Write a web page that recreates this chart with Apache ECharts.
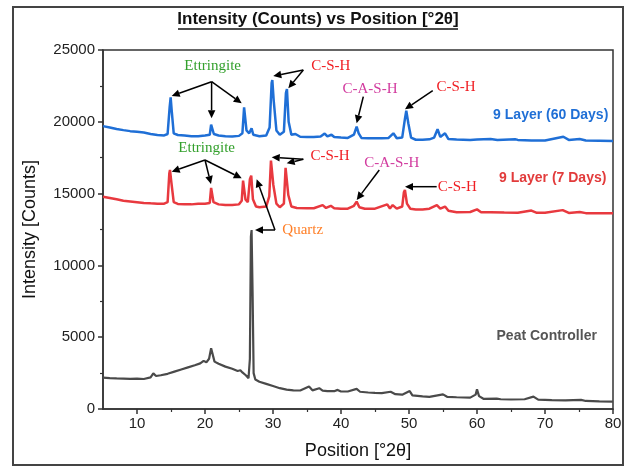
<!DOCTYPE html>
<html><head><meta charset="utf-8">
<script src="https://cdn.jsdelivr.net/npm/echarts@6/dist/echarts.min.js"></script>
<style>html,body{margin:0;padding:0;background:#fff}#c{width:627px;height:467px}</style>
</head><body><div id="c"></div>
<script>
const titleText = 'Intensity (Counts) vs Position [°2θ]';
const xName = 'Position [°2θ]';
const yName = 'Intensity [Counts]';
const xTicks = [10, 20, 30, 40, 50, 60, 70, 80];
const xMinorTicks = [15, 25, 35, 45, 55, 65, 75];
const seriesNames = ['9 Layer (60 Days)', '9 Layer (7 Days)', 'Peat Controller'];
const seriesColors = ['#1f6fd6', '#e8393f', '#4a4a4a'];

const layer60 = [[5,19700],[6,19600],[7,19500],[8,19420],[9,19350],[10,19300],[11,19250],[12,19150],[13,19080],[14,19050],[14.5,19150],[14.8,21000],[14.95,21700],[15.1,20800],[15.4,19200],[16,19080],[17,19050],[18,19000],[19,19000],[20,19050],[20.7,19100],[20.9,19800],[21.05,19850],[21.3,19150],[22,19050],[23,19000],[24,18980],[25,19020],[25.5,19200],[25.75,21000],[25.85,21050],[26.1,19400],[26.5,19200],[26.85,19550],[27.1,19100],[28,19000],[29,19050],[29.5,19600],[29.8,22700],[29.9,22910],[30.1,21500],[30.5,19400],[31,19100],[31.6,19300],[31.9,22000],[32.05,22285],[32.3,20000],[32.7,19100],[33.3,19150],[34,18960],[35,18950],[36,18950],[37,18970],[37.6,19180],[38,18980],[38.6,19100],[39,18940],[40,18900],[41,18880],[41.9,19100],[42.3,19660],[42.6,19200],[43,18880],[44,18850],[45,18850],[46,18860],[47,18880],[47.7,19200],[48.2,18850],[49,18900],[49.4,20200],[49.6,20770],[49.9,19900],[50.3,18900],[51,18750],[52,18750],[53,18780],[53.7,18900],[54.2,19480],[54.6,18950],[55.3,19200],[55.8,18800],[57,18760],[59,18740],[60,18760],[62,18800],[63,18740],[65.6,18780],[66,18740],[68,18700],[70,18700],[72.7,18960],[73.5,18740],[75.1,18800],[76,18700],[78,18680],[80,18660]];

const layer7 = [[5,14785],[6,14700],[7,14600],[8,14500],[9,14450],[10,14400],[11,14350],[12,14320],[13,14300],[14,14300],[14.5,14400],[14.75,16400],[14.85,16645],[15.05,15800],[15.4,14400],[16,14280],[17,14250],[18,14250],[19,14300],[20,14300],[20.7,14350],[20.9,15400],[21,15480],[21.25,14400],[22,14250],[23,14200],[24,14200],[25,14250],[25.4,14500],[25.6,15900],[25.75,15995],[25.95,14600],[26.3,14400],[26.6,16000],[26.8,16250],[27.05,14600],[27.5,14100],[28,14050],[29,14100],[29.45,14800],[29.7,17300],[29.8,17390],[30.05,15600],[30.5,14300],[31,14050],[31.6,14300],[31.85,16800],[32,16875],[32.25,14900],[32.7,14100],[33.5,14000],[35,13980],[36,13980],[37.3,14200],[37.8,14000],[38.5,14150],[39,13980],[40,13950],[41,13950],[41.9,14150],[42.3,14440],[42.7,14050],[43.5,13950],[45,13950],[46.8,14250],[47.2,13960],[47.6,14200],[48.2,13950],[49,14100],[49.25,15100],[49.4,15250],[49.7,14300],[50.2,13950],[51,13900],[52,13900],[53,13950],[54.1,14200],[54.6,13950],[55.3,14100],[55.8,13800],[57,13700],[59,13720],[60,13900],[60.6,13700],[62,13700],[64,13680],[66,13670],[68,13820],[68.8,13660],[70,13660],[72.6,13850],[73.5,13650],[75.1,13720],[76,13640],[78,13630],[80,13630]];

const peat = [[5,2180],[6,2150],[7,2130],[8,2120],[9,2100],[10,2110],[11,2090],[12,2200],[12.4,2480],[12.8,2300],[13.5,2350],[14.5,2450],[15.5,2600],[16.5,2750],[17.5,2900],[18.5,3050],[19.3,3180],[19.8,3350],[20.2,3250],[20.6,3500],[20.9,4225],[21.1,4100],[21.4,3300],[22,3150],[23,2950],[24,2800],[24.8,2650],[25.2,2700],[25.5,2550],[26,2350],[26.4,2150],[26.6,3500],[26.75,12000],[26.85,12465],[27,8000],[27.15,2500],[27.4,2050],[28,1900],[29,1750],[30,1600],[31,1450],[32,1350],[33,1300],[34,1290],[35.3,1560],[35.8,1300],[36.8,1450],[37.3,1280],[38,1250],[39,1240],[39.5,1330],[40,1220],[41,1220],[42.3,1400],[42.8,1200],[44,1150],[45,1120],[46,1100],[47.3,1200],[48,1030],[49,1000],[50.1,1250],[50.5,950],[52,880],[53,850],[55,1020],[55.6,850],[57,820],[59,790],[59.8,1000],[60,1370],[60.3,900],[61,700],[62.9,720],[63.5,680],[65,660],[67,680],[68.3,860],[69,650],[71,620],[73,600],[75.3,640],[76,560],[78,530],[80,510]];

// annotation texts: [text, x, y, colour, kind]
const annoTexts = [
  ['Ettringite', 21.13, 23908, '#33a02c', 'serif'],
  ['C-S-H', 38.49, 23908, '#f01e23', 'serif'],
  ['C-A-S-H', 44.26, 22264, '#d23c9f', 'serif'],
  ['C-S-H', 56.91, 22445, '#f01e23', 'serif'],
  ['Ettringite', 20.25, 18155, '#33a02c', 'serif'],
  ['C-S-H', 38.38, 17619, '#f01e23', 'serif'],
  ['C-A-S-H', 47.46, 17153, '#d23c9f', 'serif'],
  ['C-S-H', 57.1, 15481, '#f01e23', 'serif'],
  ['Quartz', 34.37, 12466, '#ff7f27', 'serif'],
  ['9 Layer (60 Days)', 70.84, 20474, '#1f6fd6', 'sans'],
  ['9 Layer (7 Days)', 71.13, 16066, '#e23b3b', 'sans'],
  ['Peat Controller', 70.25, 5084, '#555555', 'sans']
];
// arrows: [fromX, fromY, toX, toY]
const annoArrows = [
  [20.97, 22793, 15.1, 21797], [20.97, 22793, 20.97, 20245], [20.97, 22793, 25.4, 21289],
  [34.46, 23608, 30.04, 23190], [34.46, 23608, 32.25, 22333],
  [43.28, 21749, 42.3, 19896],
  [53.49, 22166, 49.41, 20871],
  [20.0, 17340, 15.1, 16525], [20.0, 17340, 20.88, 15669], [20.0, 17340, 25.4, 16066],
  [34.46, 17389, 29.81, 17528], [34.46, 17389, 32.01, 17111],
  [45.63, 16644, 42.31, 14555],
  [54.07, 15481, 49.41, 15481],
  [30.29, 12466, 27.35, 12466], [30.29, 12466, 27.6, 15996]
];

const chart = echarts.init(document.getElementById('c'), null, {renderer: 'canvas'});
const axisColor = '#333';
const sansFont = "'Liberation Sans', Arial, sans-serif";
const serifFont = "'Liberation Serif', 'Times New Roman', serif";

chart.setOption({
  animation: false,
  backgroundColor: '#fff',
  grid: {left: 103, right: 14, top: 50, bottom: 58, show: true, borderColor: axisColor, borderWidth: 1.5, backgroundColor: 'transparent'},
  xAxis: [{
    type: 'value', min: 5, max: 80, position: 'bottom',
    name: xName, nameLocation: 'middle', nameGap: 33,
    nameTextStyle: {fontSize: 18, color: '#111', fontFamily: sansFont},
    axisLine: {show: true, onZero: false, lineStyle: {color: axisColor, width: 1.5}},
    axisTick: {show: true, length: 5, customValues: xTicks, lineStyle: {color: axisColor, width: 1.5}},
    axisLabel: {customValues: xTicks, fontSize: 15, color: '#222', margin: 7, fontFamily: sansFont},
    splitLine: {show: false}
  }, {
    type: 'value', min: 5, max: 80, position: 'bottom',
    axisLine: {show: false},
    axisTick: {show: true, length: 3, customValues: xMinorTicks, lineStyle: {color: axisColor, width: 1.2}},
    axisLabel: {show: false},
    splitLine: {show: false}
  }],
  yAxis: {
    type: 'value', min: 0, max: 25000, interval: 5000,
    name: yName, nameLocation: 'middle', nameGap: 64,
    nameTextStyle: {fontSize: 18, color: '#111', fontFamily: sansFont},
    axisLine: {show: true, lineStyle: {color: axisColor, width: 1.5}},
    axisTick: {show: true, length: 5, lineStyle: {color: axisColor, width: 1.5}},
    minorTick: {show: true, splitNumber: 2, length: 3, lineStyle: {color: axisColor, width: 1.2}},
    axisLabel: {fontSize: 15, color: '#222', margin: 8, fontFamily: sansFont, formatter: v => String(v)},
    splitLine: {show: false}
  },
  series: [layer60, layer7, peat].map((d, i) => ({
    name: seriesNames[i], type: 'line', data: d, xAxisIndex: 0, showSymbol: false, symbol: 'none',
    lineStyle: {color: seriesColors[i], width: i === 2 ? 2.2 : 2.5}, itemStyle: {color: seriesColors[i]}
  }))
});

function px(x, y) { return chart.convertToPixel({xAxisIndex: 0, yAxisIndex: 0}, [x, y]); }
const g = [];
g.push({type: 'rect', shape: {x: 13, y: 7, width: 610, height: 458}, style: {fill: 'none', stroke: '#444', lineWidth: 2}, silent: true});
g.push({type: 'text', x: 318, y: 19, style: {text: titleText, fill: '#111', font: "bold 17px " + sansFont, align: 'center', verticalAlign: 'middle', textAlign: 'center', textVerticalAlign: 'middle'}});
g.push({type: 'line', shape: {x1: 178, y1: 29, x2: 458, y2: 29}, style: {stroke: '#111', lineWidth: 1.3}});
annoTexts.forEach(t => {
  const p = px(t[1], t[2]);
  const font = t[4] === 'serif' ? ('15px ' + serifFont) : ('bold 14px ' + sansFont);
  g.push({type: 'text', x: p[0], y: p[1], style: {text: t[0], fill: t[3], font: font, align: 'center', verticalAlign: 'middle', textAlign: 'center', textVerticalAlign: 'middle'}, z: 10});
});
annoArrows.forEach(a => {
  const p1 = px(a[0], a[1]);
  const p2 = px(a[2], a[3]);
  const dx = p2[0] - p1[0], dy = p2[1] - p1[1];
  const len = Math.sqrt(dx * dx + dy * dy);
  const ux = dx / len, uy = dy / len;
  const hl = 8, hw = 3.8;
  const bx = p2[0] - ux * hl, by = p2[1] - uy * hl;
  g.push({type: 'line', shape: {x1: p1[0], y1: p1[1], x2: bx, y2: by}, style: {stroke: '#000', lineWidth: 1.5}, z: 10});
  g.push({type: 'polygon', shape: {points: [[p2[0], p2[1]], [bx - uy * hw, by + ux * hw], [bx + uy * hw, by - ux * hw]]}, style: {fill: '#000'}, z: 10});
});
chart.setOption({graphic: g});
</script></body></html>
